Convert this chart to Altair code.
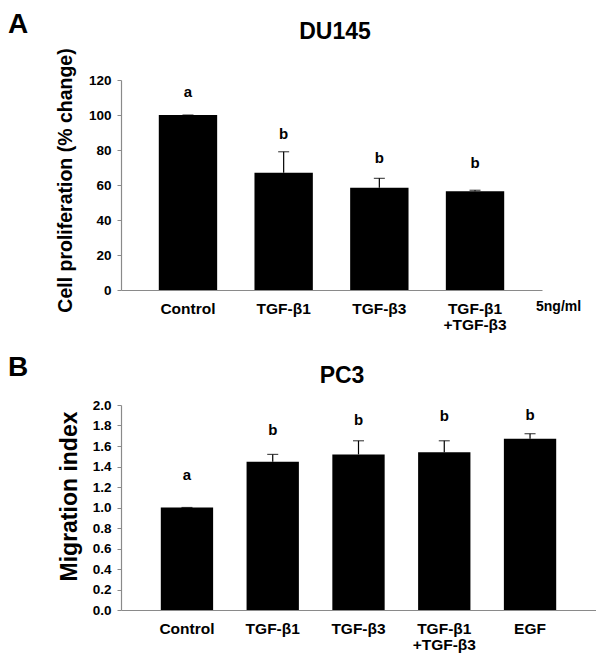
import altair as alt
import pandas as pd

FONT = "Liberation Sans"

# ---- Panel A data (DU145) ----
a_categories = ["Control", "TGF-β1", "TGF-β3", "TGF-β1\n+TGF-β3"]
a_means = [100.0, 67.0, 58.5, 56.4]
a_err_top = [100.0, 79.0, 63.8, 57.0]
a_letters = ["a", "b", "b", "b"]
a_letter_y = [110.1, 86.1, 72.4, 69.5]
a_ticks = [0, 20, 40, 60, 80, 100, 120]

# ---- Panel B data (PC3) ----
b_categories = ["Control", "TGF-β1", "TGF-β3", "TGF-β1\n+TGF-β3", "EGF"]
b_means = [1.0, 1.446, 1.518, 1.538, 1.671]
b_err_top = [1.0, 1.518, 1.651, 1.651, 1.72]
b_letters = ["a", "b", "b", "b", "b"]
b_letter_y = [1.264, 1.706, 1.804, 1.843, 1.85]
b_ticks = [0.0, 0.2, 0.4, 0.6, 0.8, 1.0, 1.2, 1.4, 1.6, 1.8, 2.0]

AX_COLOR = "#8a8a8a"


def panel(cats, means, errs, letters, letter_y, ticks, ymax, fmt,
          width, height, pad_outer, ytitle, ytitle_size, ytitle_x, ytitle_y,
          title, title_x, title_y, panel_label, label_y, extra=None):
    df = pd.DataFrame({"cat": cats, "mean": means, "err": errs,
                       "letter": letters, "ly": letter_y})
    xscale = alt.Scale(domain=cats, paddingInner=0.39, paddingOuter=pad_outer)
    xaxis = alt.Axis(title=None, labelAngle=0, ticks=False,
                     labelPadding=11, labelFontSize=15.5,
                     labelLineHeight=16.5,
                     labelExpr="split(datum.label, '\\n')",
                     domainColor=AX_COLOR, domainWidth=1.2,
                     labelFont=FONT, labelFontWeight="bold",
                     labelColor="black")
    yscale = alt.Scale(domain=[0, ymax], nice=False, zero=True)
    yaxis = alt.Axis(title=ytitle, values=ticks, format=fmt,
                     grid=False, tickSize=4, tickColor=AX_COLOR,
                     domainColor=AX_COLOR, domainWidth=1.2,
                     labelPadding=6, labelFontSize=13.5,
                     labelOverlap=False,
                     labelFont=FONT, labelFontWeight="bold",
                     labelColor="black",
                     titleFont=FONT, titleFontWeight="bold",
                     titleFontSize=ytitle_size, titleColor="black",
                     titleAngle=270, titleX=ytitle_x, titleY=ytitle_y,
                     titleAlign="center", titleBaseline="alphabetic")
    xo = alt.X("cat:N", sort=cats, scale=xscale, axis=xaxis)
    base = alt.Chart(df)
    bars = base.mark_bar(color="black").encode(
        x=xo, y=alt.Y("mean:Q", scale=yscale, axis=yaxis))
    rule = base.mark_rule(color="black", strokeWidth=1.2).encode(
        x=xo, y=alt.Y("mean:Q", scale=yscale, axis=yaxis), y2="err:Q")
    cap = base.mark_tick(color="black", size=11, thickness=1.2).encode(
        x=xo, y=alt.Y("err:Q", scale=yscale, axis=yaxis))
    letts = base.mark_text(font=FONT, fontWeight="bold", fontSize=15,
                           baseline="alphabetic", color="black").encode(
        x=xo, y=alt.Y("ly:Q", scale=yscale, axis=yaxis), text="letter:N")
    ttl = alt.Chart(pd.DataFrame({"t": [title]})).mark_text(
        font=FONT, fontWeight="bold", fontSize=23, baseline="alphabetic",
        align="center", color="black").encode(
        text="t:N", x=alt.value(title_x), y=alt.value(title_y))
    lab = alt.Chart(pd.DataFrame({"t": [panel_label]})).mark_text(
        font=FONT, fontWeight="bold", fontSize=28, baseline="alphabetic",
        align="left", color="black").encode(
        text="t:N", x=alt.value(-113), y=alt.value(label_y))
    layers = [bars, rule, cap, letts, ttl, lab]
    if extra is not None:
        layers.append(extra)
    return alt.layer(*layers).properties(width=width, height=height)


unit = alt.Chart(pd.DataFrame({"t": ["5ng/ml"]})).mark_text(
    font=FONT, fontWeight="bold", fontSize=14, baseline="alphabetic",
    align="left", color="black").encode(
    text="t:N", x=alt.value(415), y=alt.value(21 + 210))

chart_a = panel(a_categories, a_means, a_err_top, a_letters, a_letter_y,
                a_ticks, 120, "d", 421, 210, 0.395,
                "Cell proliferation (% change)", 19.5, -50, 100,
                "DU145", 214, -41, "A", -47, extra=unit)

chart_b = panel(b_categories, b_means, b_err_top, b_letters, b_letter_y,
                b_ticks, 2.0, ".1f", 475, 205, 0.464,
                "Migration index", 23, -45, 91,
                "PC3", 221, -22, "B", -29)

chart = alt.vconcat(chart_a, chart_b, spacing=21).properties(
    padding={"top": 3, "left": 0, "right": 0, "bottom": 0}
).configure(background="white").configure_view(stroke=None).configure_axis(
    labelOverlap=False)

chart.save("out.html", embed_options={"renderer": "svg", "actions": False})
